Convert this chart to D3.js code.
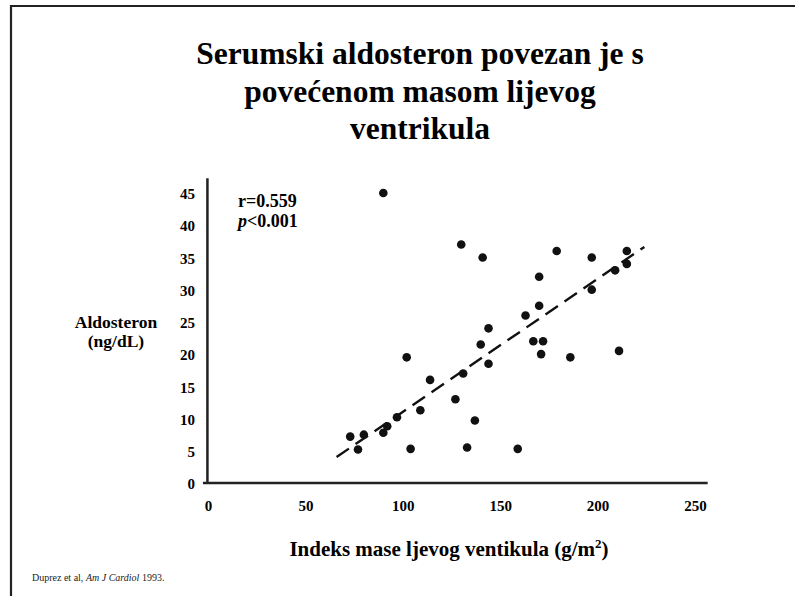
<!DOCTYPE html>
<html>
<head>
<meta charset="utf-8">
<script src="https://cdn.jsdelivr.net/npm/d3@7"></script>
<style>
  body { margin: 0; background: #fff; }
  svg { display: block; }
</style>
</head>
<body>
<div id="chart"></div>
<script>
const indexLV = [90, 130, 141, 179, 197, 215, 215, 209, 170, 197, 170, 163, 144, 140, 102, 144, 167, 172,
                 171, 186, 211, 131, 114, 127, 109, 97, 137, 104, 133, 159, 92, 90, 73, 80, 77];
const aldosterone = [45, 37, 35, 36, 35, 36, 34, 33, 32, 30, 27.5, 26, 24, 21.5, 19.5, 18.5, 22, 22,
                     20, 19.5, 20.5, 17, 16, 13, 11.3, 10.2, 9.7, 5.3, 5.5, 5.3, 8.8, 7.8, 7.2, 7.5, 5.2];
const xTicks = [0, 50, 100, 150, 200, 250];
const yTicks = [0, 5, 10, 15, 20, 25, 30, 35, 40, 45];
const fitIntercept = -9.6, fitSlope = 0.2064, fitRange = [66, 224];
const titleLines = ["Serumski aldosteron povezan je s", "povećenom masom lijevog", "ventrikula"];

const serif = "'Liberation Serif', 'Times New Roman', serif";
const width = 795, height = 596;
const svg = d3.select("#chart")
              .append("svg")
              .attr("width", width)
              .attr("height", height);

// slide frame (top and left edges only)
svg.append("path")
   .attr("d", "M11,596V6H795")
   .attr("fill", "none")
   .attr("stroke", "#222")
   .attr("stroke-width", 2.2);

svg.append("text")
   .attr("x", 420)
   .attr("y", 64)
   .attr("text-anchor", "middle")
   .attr("font-family", serif)
   .attr("font-weight", "bold")
   .attr("font-size", 31.5)
   .selectAll("tspan")
   .data(titleLines)
   .join("tspan")
   .attr("x", 420)
   .attr("dy", (d, i) => i === 0 ? 0 : 37.5)
   .text(d => d);

const xScale = d3.scaleLinear().domain([0, 250]).range([208, 695]);
const yScale = d3.scaleLinear().domain([0, 45]).range([483, 193]);

// axis lines
svg.append("line")
   .attr("x1", xScale(-0.3)).attr("x2", xScale(-0.3))
   .attr("y1", yScale(47.3)).attr("y2", yScale(0))
   .attr("stroke", "#222").attr("stroke-width", 2.5);
svg.append("line")
   .attr("x1", xScale(-2.6)).attr("x2", xScale(256.5))
   .attr("y1", yScale(0)).attr("y2", yScale(0))
   .attr("stroke", "#222").attr("stroke-width", 2.5);

const xAxis = d3.axisBottom(xScale).tickValues(xTicks).tickSize(0).tickPadding(17);
const yAxis = d3.axisLeft(yScale).tickValues(yTicks).tickSize(0).tickPadding(13);
svg.append("g")
   .attr("transform", `translate(0, ${yScale(0)})`)
   .call(xAxis)
   .call(g => g.select(".domain").remove())
   .attr("font-family", serif)
   .attr("font-weight", "bold")
   .attr("font-size", 15);
svg.append("g")
   .attr("transform", `translate(${xScale(0)}, 0)`)
   .call(yAxis)
   .call(g => g.select(".domain").remove())
   .attr("font-family", serif)
   .attr("font-weight", "bold")
   .attr("font-size", 15)
   .call(g => g.selectAll(".tick text").attr("dy", "0.38em"));

// regression line
const fit = fitRange.map(v => [v, fitIntercept + fitSlope * v]);
svg.append("path")
   .datum(fit)
   .attr("d", d3.line().x(d => xScale(d[0])).y(d => yScale(d[1])))
   .attr("stroke", "#111")
   .attr("stroke-width", 2.4)
   .attr("stroke-dasharray", "15,8")
   .attr("fill", "none");

svg.append("g")
   .selectAll("circle")
   .data(indexLV.map((v, i) => [v, aldosterone[i]]))
   .join("circle")
   .attr("cx", d => xScale(d[0]))
   .attr("cy", d => yScale(d[1]))
   .attr("r", 4.3)
   .attr("fill", "#111");

// stats
const stats = svg.append("text")
   .attr("x", 238)
   .attr("y", 207)
   .attr("font-family", serif)
   .attr("font-weight", "bold")
   .attr("font-size", 18);
stats.append("tspan").attr("x", 238).text("r=0.559");
stats.append("tspan").attr("x", 238).attr("dy", 20).attr("font-style", "italic").text("p");
stats.append("tspan").text("<0.001");

// axis titles
svg.append("text")
   .attr("x", 116)
   .attr("y", 328)
   .attr("text-anchor", "middle")
   .attr("font-family", serif)
   .attr("font-weight", "bold")
   .attr("font-size", 17.5)
   .selectAll("tspan")
   .data(["Aldosteron", "(ng/dL)"])
   .join("tspan")
   .attr("x", 116)
   .attr("dy", (d, i) => i === 0 ? 0 : 19)
   .text(d => d);

const xTitle = svg.append("text")
   .attr("x", 449)
   .attr("y", 556)
   .attr("text-anchor", "middle")
   .attr("font-family", serif)
   .attr("font-weight", "bold")
   .attr("font-size", 21);
xTitle.append("tspan").text("Indeks mase ljevog ventikula (g/m");
xTitle.append("tspan").attr("dy", -8).attr("font-size", 13).text("2");
xTitle.append("tspan").attr("dy", 8).text(")");

// source
const src = svg.append("text")
   .attr("x", 32)
   .attr("y", 581)
   .attr("font-family", serif)
   .attr("font-size", 10)
   .attr("fill", "#222");
src.append("tspan").text("Duprez et al, ");
src.append("tspan").attr("font-style", "italic").text("Am J Cardiol");
src.append("tspan").text(" 1993.");
</script>
</body>
</html>
